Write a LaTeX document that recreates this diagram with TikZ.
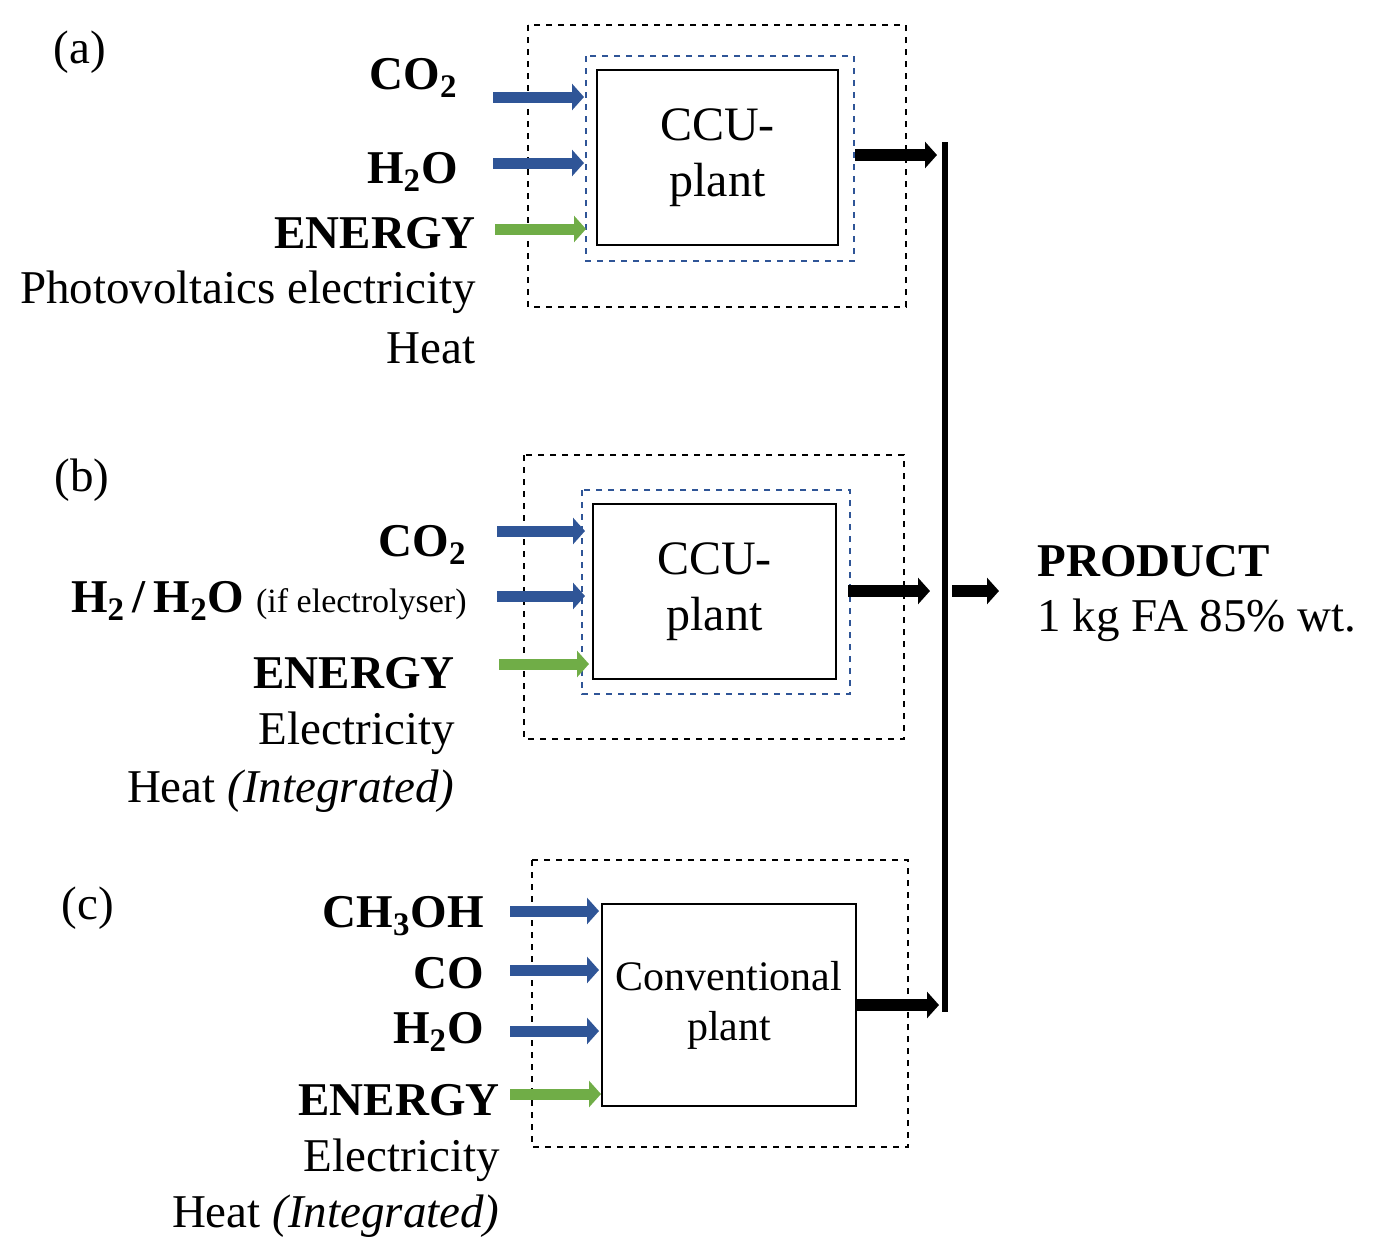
\documentclass[tikz,border=0pt]{standalone}
\usepackage{fontspec}
\setmainfont{Liberation Serif}
\usetikzlibrary{arrows.meta}
\definecolor{ablue}{RGB}{47,85,151}
\definecolor{agreen}{RGB}{112,173,71}
\begin{document}
\begin{tikzpicture}[x=0.5pt,y=-0.5pt,
  every node/.style={font=\fontsize{23.5}{26}\selectfont,inner sep=0pt},
  lab/.style={anchor=east},
  blab/.style={anchor=east,font=\fontsize{23.5}{26}\selectfont\bfseries},
  fat/.style={line width=5.5pt,-{Triangle[length=6pt,width=13pt]}},
  bl/.style={fat,ablue},
  gr/.style={fat,agreen},
  bk/.style={fat,black,line width=6pt},
  outer/.style={draw,dashed,line width=0.6pt},
  inner/.style={draw=ablue,dashed,line width=0.6pt},
  plant/.style={draw,line width=0.8pt,align=center}]
\useasboundingbox (0,0) rectangle (1378,1255);
% (a)
\node at (80,52) {(a)};
\draw[outer] (528,25) rectangle (906,307);
\draw[inner] (586,56) rectangle (854,261);
\node[plant,minimum width=120.5pt,minimum height=87.5pt,font=\fontsize{24}{28}\selectfont] (pa) at (717.5,157.5) {CCU-\\plant};
\coordinate (a1) at (493,97); \coordinate (a1e) at (584,97);
\coordinate (a2) at (493,163); \coordinate (a2e) at (584,163);
\coordinate (a3) at (495,229); \coordinate (a3e) at (586,229);
\draw[bl] (a1) -- (a1e); \draw[bl] (a2) -- (a2e); \draw[gr] (a3) -- (a3e);
\node[blab] at (458,78) {CO\textsubscript{2}};
\node[blab] at (458,172) {H\textsubscript{2}O};
\node[blab] at (476,233) {ENERGY};
\node[lab] at (476,292) {Photovoltaics electricity};
\node[lab] at (476,348) {Heat};
\coordinate (ao) at (855,155); \coordinate (aoe) at (937,155);
\draw[bk] (ao) -- (aoe);
% bar
\coordinate (bt) at (945,142); \coordinate (bb) at (945,1012);
\draw[line width=3.2pt] (bt) -- (bb);
% (b)
\node at (82,480) {(b)};
\draw[outer] (524,455) rectangle (904,739);
\draw[inner] (582,490) rectangle (850,694);
\node[plant,minimum width=121.5pt,minimum height=87.5pt,font=\fontsize{24}{28}\selectfont] (pb) at (714.5,591.5) {CCU-\\plant};
\coordinate (b1) at (497,531); \coordinate (b1e) at (585,531);
\coordinate (b2) at (497,596); \coordinate (b2e) at (585,596);
\coordinate (b3) at (499,664); \coordinate (b3e) at (589,664);
\draw[bl] (b1) -- (b1e); \draw[bl] (b2) -- (b2e); \draw[gr] (b3) -- (b3e);
\node[blab] at (467,545) {CO\textsubscript{2}};
\node[lab] at (467,601) {\textbf{H\textsubscript{2}\,/\,H\textsubscript{2}O} {\fontsize{17}{20}\selectfont(if electrolyser)}};
\node[blab] at (455,673) {ENERGY};
\node[lab] at (455,733) {Electricity};
\node[lab] at (455,791) {Heat \textit{(Integrated)}};
\coordinate (bo) at (848,591); \coordinate (boe) at (930,591);
\draw[bk] (bo) -- (boe);
\coordinate (po) at (952,591); \coordinate (poe) at (999,591);
\draw[bk] (po) -- (poe);
\node[anchor=west,font=\fontsize{23.5}{26}\selectfont\bfseries] at (1037,561) {PRODUCT};
\node[anchor=west] at (1037,620) {1 kg FA 85\% wt.};
% (c)
\node at (88,908) {(c)};
\draw[outer] (532,860) rectangle (908,1147);
\node[plant,minimum width=127pt,minimum height=101pt,font=\fontsize{21}{25}\selectfont] (pc) at (729,1005) {Conventional\\plant};
\coordinate (c1) at (510,911); \coordinate (c1e) at (599,911);
\coordinate (c2) at (510,970); \coordinate (c2e) at (599,970);
\coordinate (c3) at (510,1031); \coordinate (c3e) at (599,1031);
\coordinate (c4) at (510,1094); \coordinate (c4e) at (601,1094);
\draw[bl] (c1) -- (c1e); \draw[bl] (c2) -- (c2e); \draw[bl] (c3) -- (c3e); \draw[gr] (c4) -- (c4e);
\node[blab] at (484,916) {CH\textsubscript{3}OH};
\node[blab] at (484,973) {CO};
\node[blab] at (484,1032) {H\textsubscript{2}O};
\node[blab] at (500,1100) {ENERGY};
\node[lab] at (500,1160) {Electricity};
\node[lab] at (500,1216) {Heat \textit{(Integrated)}};
\coordinate (co) at (857,1005); \coordinate (coe) at (939,1005);
\draw[bk] (co) -- (coe);
\end{tikzpicture}
\end{document}
